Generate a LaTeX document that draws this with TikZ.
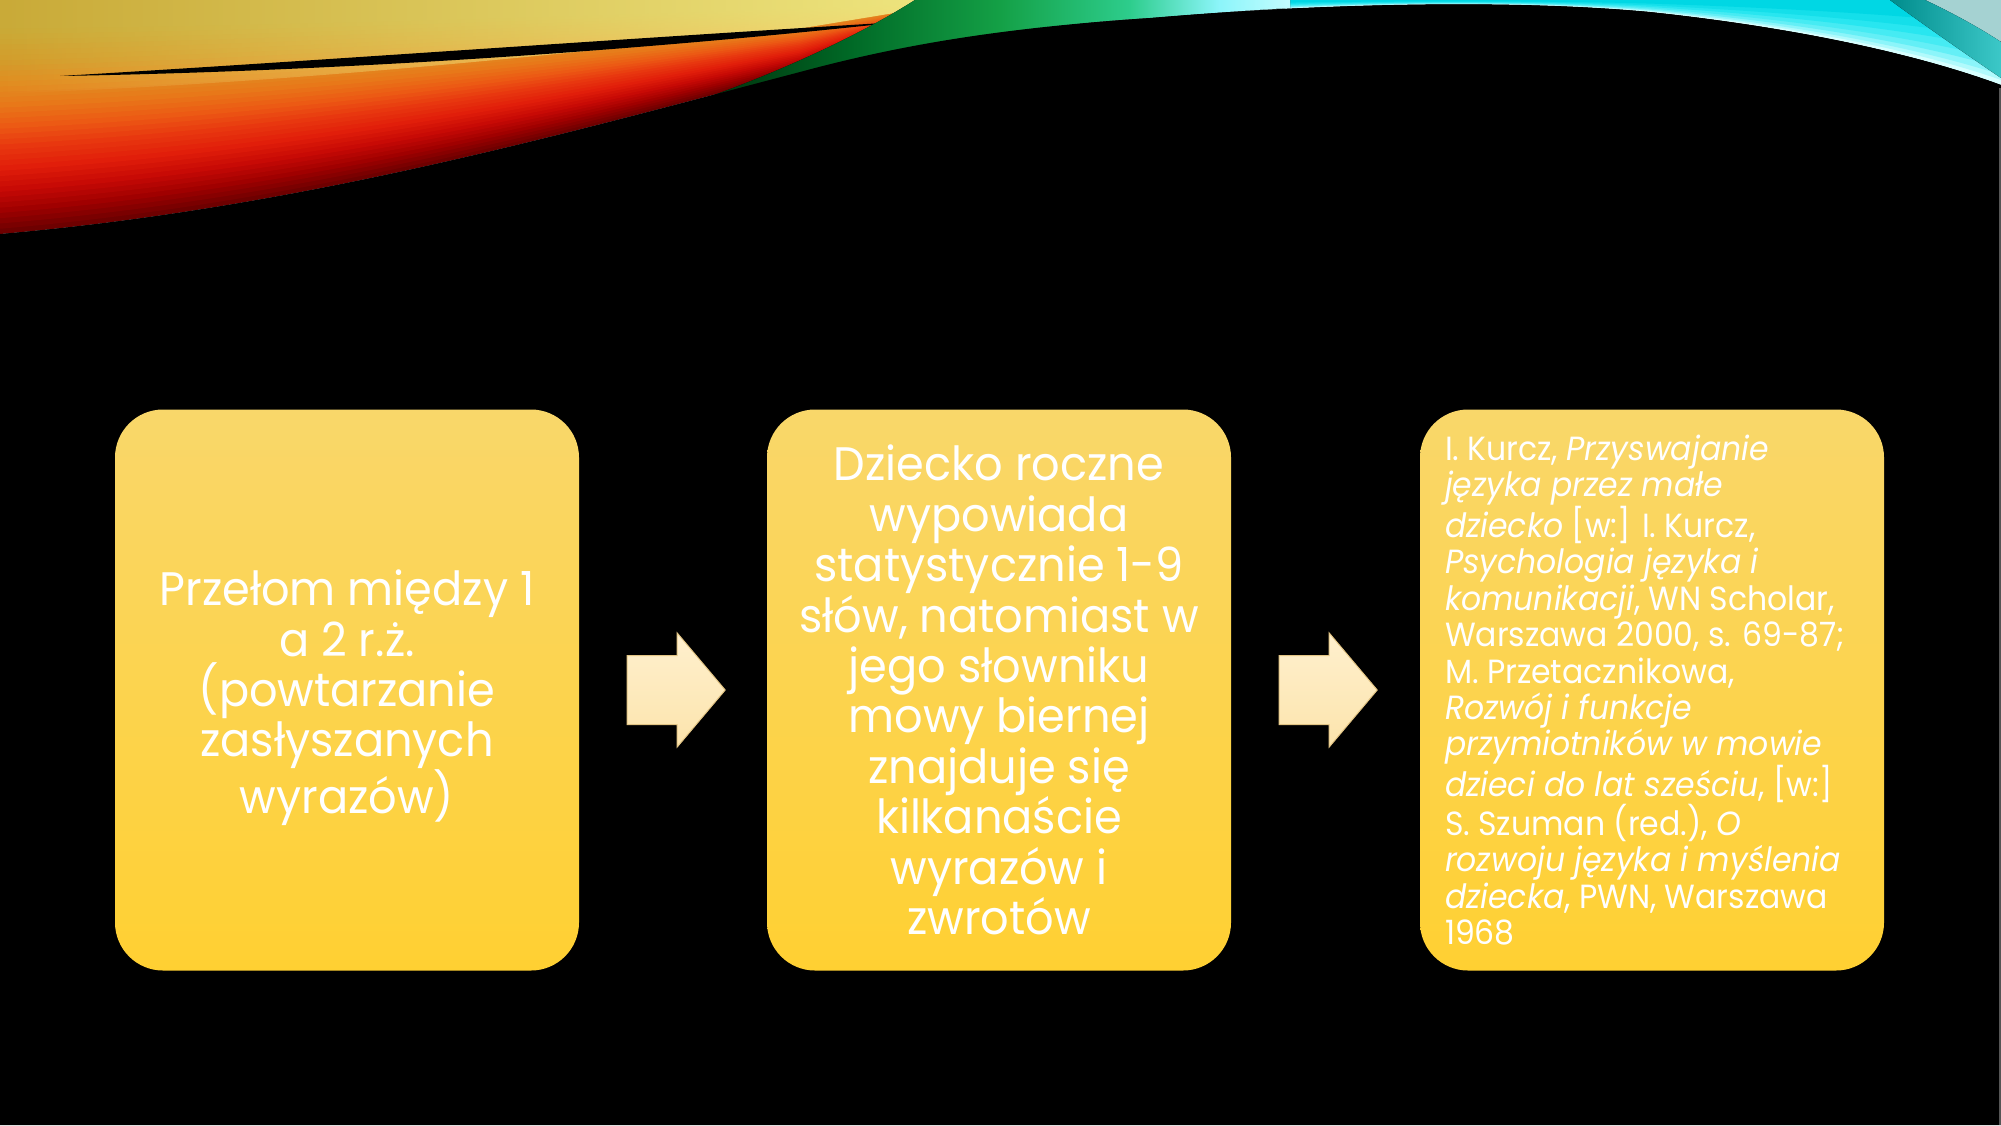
\documentclass[tikz,border=0pt]{standalone}
\usepackage{fontspec}
\setmainfont{Poppins}[FakeStretch=0.95]
\newfontfamily\reffont{Poppins}[FakeStretch=0.94]
\usetikzlibrary{calc,fadings}
\definecolor{boxtop}{RGB}{249,215,106}
\definecolor{boxbot}{RGB}{255,208,50}
\definecolor{arrtop}{RGB}{255,240,206}
\definecolor{arrbot}{RGB}{252,228,172}
\definecolor{arredge}{RGB}{226,196,132}
\definecolor{cyA}{RGB}{215,255,255}
\definecolor{cyB}{RGB}{140,245,250}
\definecolor{cyC}{RGB}{40,230,240}
\definecolor{cyD}{RGB}{0,215,228}
\definecolor{k1}{RGB}{110,0,0}
\definecolor{k2}{RGB}{160,0,0}
\definecolor{k3}{RGB}{200,10,5}
\definecolor{k4}{RGB}{225,30,10}
\definecolor{k5}{RGB}{232,55,15}
\definecolor{k6}{RGB}{236,90,20}
\definecolor{k7}{RGB}{232,120,25}
\definecolor{k8}{RGB}{225,140,32}
\definecolor{k9}{RGB}{212,155,42}
\definecolor{k10}{RGB}{205,165,50}
\definecolor{k11}{RGB}{200,172,58}
\definecolor{paley}{RGB}{240,232,130}
\definecolor{grA}{RGB}{0,45,10}
\definecolor{grA2}{RGB}{0,105,38}
\definecolor{grB}{RGB}{20,160,70}
\definecolor{grC}{RGB}{45,205,140}
\definecolor{grD}{RGB}{140,245,250}
\definecolor{grE}{RGB}{195,252,255}
\definecolor{tealA}{RGB}{0,140,140}
\definecolor{tealB}{RGB}{60,200,200}
\definecolor{greyteal}{RGB}{165,210,210}
\definecolor{edgegrey}{RGB}{85,85,85}
\tikzfading[name=fadeleft, left color=transparent!100, right color=transparent!0]
\pgfdeclarehorizontalshading{ribbon}{100bp}{color(0bp)=(grA); color(25bp)=(grA); color(37.7bp)=(grA2); color(50.4bp)=(grB); color(61.4bp)=(grC); color(69bp)=(grD); color(75bp)=(grE); color(100bp)=(grE)}
\def\Cpath{(0,0) -- (0,234) .. controls (300,208) and (560,135) .. (800,72) .. controls (900,45) and (1000,28) .. (1150,18) .. controls (1300,5) and (1500,-2) .. (1650,12) .. controls (1800,28) and (1920,55) .. (2001,85) -- (2001,0) -- cycle}
\def\Wpath{(0,0) -- (0,234) .. controls (300,208) and (560,135) .. (800,72) -- (975,0) -- cycle}
\tikzset{
  yellowbox/.style={rounded corners=48pt, top color=boxtop, bottom color=boxbot,
    minimum width=464pt, minimum height=561pt, inner sep=0pt, draw=none},
  bigtext/.style={text=white, align=center, inner sep=0pt,
    font=\fontsize{47}{50.4}\selectfont},
  reftext/.style={text=white, align=left, inner sep=0pt,
    font=\reffont\fontsize{33.5}{36.4}\selectfont},
  blockarrow/.style={top color=arrtop, bottom color=arrbot, draw=arredge, line width=1pt, line join=miter}
}
\begin{document}
\begin{tikzpicture}[x=1pt,y=-1pt]
\useasboundingbox (0,0) rectangle (2001,1125);
\fill[black] (0,0) rectangle (2001,1125);
% cool (cyan) layers
\foreach \t/\c in {1.00/cyA, 0.94/cyA!50!cyB, 0.88/cyB, 0.80/cyB!60!cyC, 0.70/cyB!30!cyC, 0.58/cyC, 0.45/cyC!50!cyD, 0.30/cyD}{
  \begin{scope}[yscale=\t]
    \fill[\c] \Cpath;
  \end{scope}
}
% top-right teal streak
\fill[greyteal] (1925,0) -- (2001,0) -- (2001,42) .. controls (1975,25) and (1950,12) .. (1925,0) -- cycle;
\fill[left color=tealA, right color=tealB] (1890,0) -- (1925,0) .. controls (1950,12) and (1975,25) .. (2001,42) -- (2001,78) .. controls (1960,50) and (1920,22) .. (1890,0) -- cycle;
% warm layers (smooth ramp)
\foreach \a/\b [count=\n] in {k1/k2, k2/k3, k3/k4, k4/k5, k5/k6, k6/k7, k7/k8, k8/k9, k9/k10, k10/k11}{
  \foreach \m in {0,1,2,3}{
    \pgfmathsetmacro\tt{1.0-0.09*(\n-1)-0.0225*\m}
    \pgfmathtruncatemacro\pc{100-25*\m}
    \begin{scope}[yscale=\tt]
      \fill[\a!\pc!\b] \Wpath;
    \end{scope}
  }
}
\begin{scope}[yscale=0.40]
  \fill[paley, path fading=fadeleft] \Wpath;
\end{scope}
% black sliver
\fill[black] (60,76) .. controls (300,62) and (600,40) .. (900,22) .. controls (600,55) and (300,72) .. (60,76) -- cycle;
% green ribbon
\fill[shading=ribbon]
  (700,100) .. controls (850,62) and (1000,26) .. (1150,18) .. controls (1200,14) and (1250,10) .. (1290,8) -- (1290,0) -- (915,0) .. controls (860,35) and (780,72) .. (700,100) -- cycle;
% black lower region
\fill[black] (0,234) .. controls (300,208) and (560,135) .. (800,72) .. controls (900,45) and (1000,28) .. (1150,18) .. controls (1300,5) and (1500,-2) .. (1650,12) .. controls (1800,28) and (1920,55) .. (2001,85) -- (2001,1125) -- (0,1125) -- cycle;
\fill[edgegrey] (1998.5,88) rectangle (2001,1125);
% boxes
\node[yellowbox] (b1) at (347,690) {};
\node[yellowbox] (b2) at (999,690) {};
\node[yellowbox] (b3) at (1652,690) {};
\node[bigtext] (t1) at ($(b1.center)+(0,8)$) {Przełom między 1\\a 2 r.ż.\\(powtarzanie\\zasłyszanych\\wyrazów)};
\node[bigtext] (t2) at (b2.center) {Dziecko roczne\\wypowiada\\statystycznie 1-9\\słów, natomiast w\\jego słowniku\\mowy biernej\\znajduje się\\kilkanaście\\wyrazów i\\zwrotów};
\node[reftext, anchor=west] (t3) at ($(b3.west)+(25,0)$) {I. Kurcz, \textit{Przyswajanie}\\
\textit{języka przez małe}\\
\textit{dziecko} [w:] I. Kurcz,\\
\textit{Psychologia języka i}\\
\textit{komunikacji}, WN Scholar,\\
Warszawa 2000, s. 69-87;\\
M. Przetacznikowa,\\
\textit{Rozwój i funkcje}\\
\textit{przymiotników w mowie}\\
\textit{dzieci do lat sześciu}, [w:]\\
S. Szuman (red.), \textit{O}\\
\textit{rozwoju języka i myślenia}\\
\textit{dziecka}, PWN, Warszawa\\
1968};
% block arrows
\begin{scope}[shift={(b1.east)}]
  \fill[blockarrow] (48,-34.5) -- (98,-34.5) -- (98,-57) -- (146,0) -- (98,57) -- (98,34.5) -- (48,34.5) -- cycle;
\end{scope}
\begin{scope}[shift={(b2.east)}]
  \fill[blockarrow] (48,-34.5) -- (98,-34.5) -- (98,-57) -- (146,0) -- (98,57) -- (98,34.5) -- (48,34.5) -- cycle;
\end{scope}
\end{tikzpicture}
\end{document}
